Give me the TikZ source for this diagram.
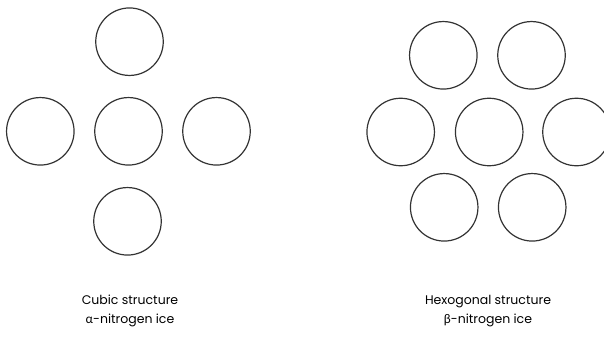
\documentclass[tikz,border=0pt]{standalone}
\usepackage{fontspec}
\setmainfont{Poppins}
\newfontfamily\greekfont{Lato}
\begin{document}
\begin{tikzpicture}[x=1pt,y=-1pt,
  mol/.style={circle,draw=black!80,line width=1.2pt,minimum size=67.5pt,inner sep=0pt},
  captext/.style={align=center,font=\fontsize{12.5}{19}\selectfont,text=black}]
\useasboundingbox (0,0) rectangle (604,337);
% cubic
\node[mol] (c1) at (129.5,41.7) {};
\node[mol] (c2) at (40.3,131.3) {};
\node[mol] (c3) at (128.5,131.3) {};
\node[mol] (c4) at (216.5,131.3) {};
\node[mol] (c5) at (127.5,221.3) {};
% hexagonal
\node[mol] (h1) at (443.3,55.3) {};
\node[mol] (h2) at (531.5,55.3) {};
\node[mol] (h3) at (400.7,132) {};
\node[mol] (h4) at (489.2,132) {};
\node[mol] (h5) at (576.5,132) {};
\node[mol] (h6) at (444.2,207.3) {};
\node[mol] (h7) at (532.2,207.3) {};
% captions
\node[captext] (tc) at (130,311) {Cubic structure\\{\greekfont α}-nitrogen ice};
\node[captext] (th) at (488,311) {Hexogonal structure\\{\greekfont β}-nitrogen ice};
\end{tikzpicture}
\end{document}
